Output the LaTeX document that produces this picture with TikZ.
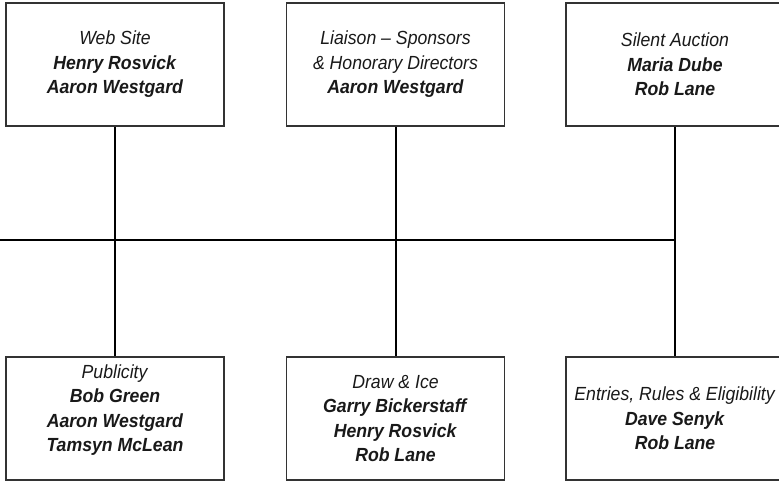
\documentclass[tikz,border=0pt]{standalone}
\usepackage{fontspec}
\setmainfont{Liberation Sans}[FakeStretch=0.93]
\usepackage{tikz}
\usetikzlibrary{positioning}
\tikzset{unit/.style={rectangle, draw=black!80, line width=1.8pt, minimum width=218pt, minimum height=123pt, inner sep=0pt, align=center, text=black!90, font=\fontsize{19}{24.5}\selectfont}}
\newcommand{\role}[1]{\textit{#1}}
\newcommand{\who}[1]{\textbf{\textit{#1}}}

\begin{document}
\begin{tikzpicture}[x=1pt,y=-1pt]
  \useasboundingbox (0,0) rectangle (779,482);
  \foreach \x/\y/\lab/\txt in {
    115/64.5/web/{\role{Web Site}\\\who{Henry Rosvick}\\\who{Aaron Westgard}},
    395.5/64.5/liaison/{\role{Liaison -- Sponsors}\\\role{\& Honorary Directors}\\\who{Aaron Westgard}},
    675/64.5/auction/{\role{Silent Auction}\\\who{Maria Dube}\\\who{Rob Lane}},
    115/418.5/publicity/{\role{Publicity}\\\who{Bob Green}\\\who{Aaron Westgard}\\\who{Tamsyn McLean}\\[-4pt]\mbox{}},
    395.5/418.5/draw/{\role{Draw \& Ice}\\\who{Garry Bickerstaff}\\\who{Henry Rosvick}\\\who{Rob Lane}},
    675/418.5/entries/{\role{Entries, Rules \& Eligibility}\\\who{Dave Senyk}\\\who{Rob Lane}}%
  } {
    \node[unit] (\lab) at (\x, \y) {\txt};
  }
  \coordinate (edge) at (0,240);
  \begin{scope}[line width=2pt, black]
    \foreach \u/\v in {
      web/publicity,
      liaison/draw,
      auction/entries%
    }{
      \draw (\u) edge (\v);
    }
    \draw (edge) -- (edge -| auction);
  \end{scope}
\end{tikzpicture}
\end{document}
